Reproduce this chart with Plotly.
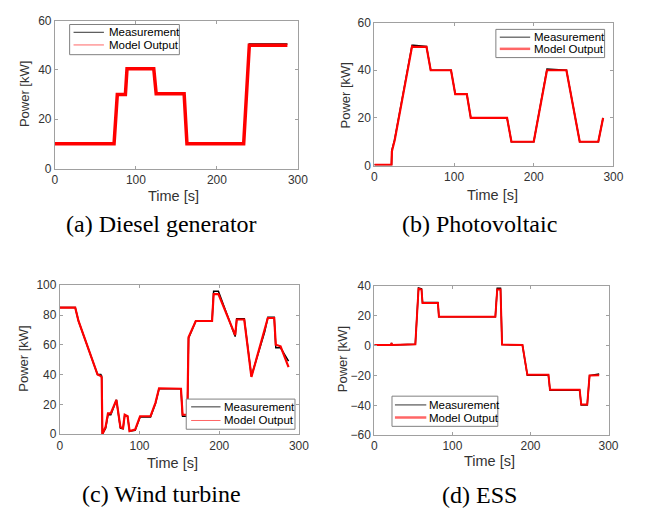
import plotly.graph_objects as go

W, H = 645, 517

# ---------------- data (breakpoints) ----------------
# (a) Diesel generator
dg_t = [0, 73, 77, 87, 89, 122, 125, 159.5, 163, 233, 240, 287]
dg_meas = [10, 10, 30.3, 30.3, 40.8, 40.8, 30.6, 30.6, 10.1, 10.1, 50.5, 50.5]
dg_model = [10, 10, 30, 30, 40.5, 40.5, 30.3, 30.3, 10, 10, 50, 50]

# (b) Photovoltaic
pv_t = [0, 21.5, 22, 25.5, 47.3, 49, 65.4, 70.7, 96.2, 101.5, 116, 121, 166.5, 172, 200, 216.6, 241, 257.7, 281, 287]
pv_meas = [0.3, 0.3, 6.5, 11, 50.5, 50.5, 50, 40, 40, 30, 30, 20, 20, 10, 10, 40.5, 40, 10, 10, 20]
pv_model = [0.3, 0.3, 6, 10.6, 50, 49.8, 49.8, 40, 40, 30, 30, 20, 20, 10, 10, 40, 40, 10, 10, 20]

# (c) Wind turbine
wt_t = [0, 19.3, 23.4, 47.3, 51.4, 52.5, 53.4, 57.5, 60.4, 64, 71, 76, 79.3, 81.4, 85, 87.5, 94.5,
        100.7, 113.8, 120, 124.5, 152, 154, 159, 160, 161.5, 170.6, 191, 193, 199, 220, 222, 231.4,
        240.4, 257, 261, 269, 271, 277, 287]
wt_meas = [85, 85, 76, 40, 40, 39, 0, 4, 13, 13, 23, 4, 3.5, 12.5, 12, 2, 2.5,
           11.5, 11.5, 20.5, 30.5, 30.5, 12, 12, 12, 64.5, 76, 76, 96, 96, 65.5, 77.5, 77.5,
           39, 68.5, 78.5, 78.5, 58, 58, 49]
wt_model = [85, 85, 76, 40, 39, 38, 0, 5, 14, 14, 23, 4.6, 4, 13, 12, 2, 3,
            12, 12, 21, 30.8, 30.5, 13, 13, 13, 65, 76, 76, 94, 94, 66.5, 77, 77,
            38.4, 69, 78, 78, 60, 59, 45]

# (d) ESS
es_t = [0, 21.5, 22, 22.5, 52.5, 56.6, 60.4, 61.7, 81.4, 82.7, 155, 157.4, 161.6, 163.6,
        189.7, 196, 223, 225, 263, 265, 272.7, 275.7, 288]
es_meas = [0.5, 0.5, 2, 0.5, 1, 38.8, 38.3, 29, 29, 19.5, 19.5, 38.6, 38.6, 0.8,
           0.5, -19.8, -19.8, -29.8, -29.8, -39.8, -39.8, -20, -19]
es_model = [0.5, 0.5, 2, 0.5, 1, 38.3, 37.8, 28.7, 28.7, 19.5, 19.5, 37.8, 37.8, 0.8,
            0.5, -19.5, -19.5, -29.5, -29.5, -39.5, -39.5, -20, -19.8]

x_ticks = [0, 100, 200, 300]
captions = ["(a) Diesel generator", "(b) Photovoltaic", "(c) Wind turbine", "(d) ESS"]
legend_names = ["Measurement", "Model Output"]

# ---------------- layout geometry (pixels) ----------------
boxes = [
    (53, 301, 14, 166),
    (379, 623, 16, 163),
    (58, 302, 286, 439),
    (379, 618, 287, 440),
]
y_ranges = [[0, 60], [0, 60], [0, 100], [-60, 40]]
y_dticks = [20, 20, 20, 20]
red_widths = [3.5, 2.2, 2.2, 2.0]

panels = [
    (dg_t, dg_meas, dg_model),
    (pv_t, pv_meas, pv_model),
    (wt_t, wt_meas, wt_model),
    (es_t, es_meas, es_model),
]


def px(x):
    return x / W


def py(y):
    return 1 - y / H


fig = go.Figure()
layout = dict(
    width=W, height=H, margin=dict(l=0, r=0, t=0, b=0),
    paper_bgcolor="white", plot_bgcolor="white", showlegend=False,
    font=dict(family="Liberation Sans, Arial, sans-serif", color="#262626"),
)

FRAME = "#a0a0a0"
TICKC = "#333333"

for i, ((t, meas, model), (x0, x1, y0, y1)) in enumerate(zip(panels, boxes)):
    n = "" if i == 0 else str(i + 1)
    xa, ya = "x" + n, "y" + n
    fig.add_trace(go.Scatter(x=t, y=meas, mode="lines", name=legend_names[0],
                             line=dict(color="black", width=1.5), xaxis=xa, yaxis=ya))
    fig.add_trace(go.Scatter(x=t, y=model, mode="lines", name=legend_names[1],
                             line=dict(color="#ff0000", width=red_widths[i]), xaxis=xa, yaxis=ya))
    common = dict(showgrid=False, zeroline=False, showline=True, linecolor=FRAME, linewidth=1,
                  mirror="allticks", ticks="inside", ticklen=3, tickcolor=FRAME,
                  tickfont=dict(size=12, color=TICKC))
    layout["xaxis" + n] = dict(domain=[px(x0), px(x1)], anchor=ya, range=[0, 300],
                               tickvals=x_ticks, **common)
    layout["yaxis" + n] = dict(domain=[py(y1), py(y0)], anchor=xa, range=y_ranges[i],
                               dtick=y_dticks[i], tick0=0, **common)

fig.update_layout(**layout)

# ---------------- text: axis titles and captions ----------------
ylabel_pos = [(22, 90), (350, 91), (21, 362), (346, 362)]
xlabel_pos = [(174, 194), (500, 193), (173, 469), (497, 467)]
caption_pos = [(162, 223), (486, 223), (162, 501), (486, 502)]

for i in range(4):
    fig.add_annotation(text="Power [kW]", xref="paper", yref="paper",
                       x=px(ylabel_pos[i][0]), y=py(ylabel_pos[i][1]), showarrow=False,
                       textangle=-90, xanchor="center", yanchor="middle",
                       font=dict(size=13, color=TICKC))
    fig.add_annotation(text="Time [s]", xref="paper", yref="paper",
                       x=px(xlabel_pos[i][0]), y=py(xlabel_pos[i][1]), showarrow=False,
                       xanchor="center", yanchor="middle",
                       font=dict(size=14.5, color=TICKC))
    fig.add_annotation(text=captions[i], xref="paper", yref="paper",
                       x=px(caption_pos[i][0]), y=py(caption_pos[i][1]), showarrow=False,
                       xanchor="center", yanchor="middle",
                       font=dict(size=24, color="black",
                                 family="Liberation Serif, Times New Roman, serif"))

# ---------------- legends (drawn boxes) ----------------
legends = [
    (68, 180, 18, 49, 72, 103, (26, 39), 106, 1.0),
    (503, 614, 23, 52, 507, 538, (31, 43), 540, 2.5),
    (187, 298, 403, 434, 192, 222, (411, 425), 224, 1.0),
    (397, 505, 400, 431, 400, 432, (409, 422), 433, 2.5),
]
for (bx0, bx1, by0, by1, lx0, lx1, lys, tx, rw) in legends:
    fig.add_shape(type="rect", xref="paper", yref="paper",
                  x0=px(bx0), x1=px(bx1), y0=py(by1), y1=py(by0),
                  line=dict(color="#808080", width=1), fillcolor="white")
    colors = ["#333333", "#ff6666"]
    widths = [1, rw]
    for k in range(2):
        fig.add_shape(type="line", xref="paper", yref="paper",
                      x0=px(lx0), x1=px(lx1), y0=py(lys[k]), y1=py(lys[k]),
                      line=dict(color=colors[k], width=widths[k]))
        fig.add_annotation(text=legend_names[k], xref="paper", yref="paper",
                           x=px(tx), y=py(lys[k]), showarrow=False,
                           xanchor="left", yanchor="middle",
                           font=dict(size=11.5, color="black"))

fig.write_html("out.html")
